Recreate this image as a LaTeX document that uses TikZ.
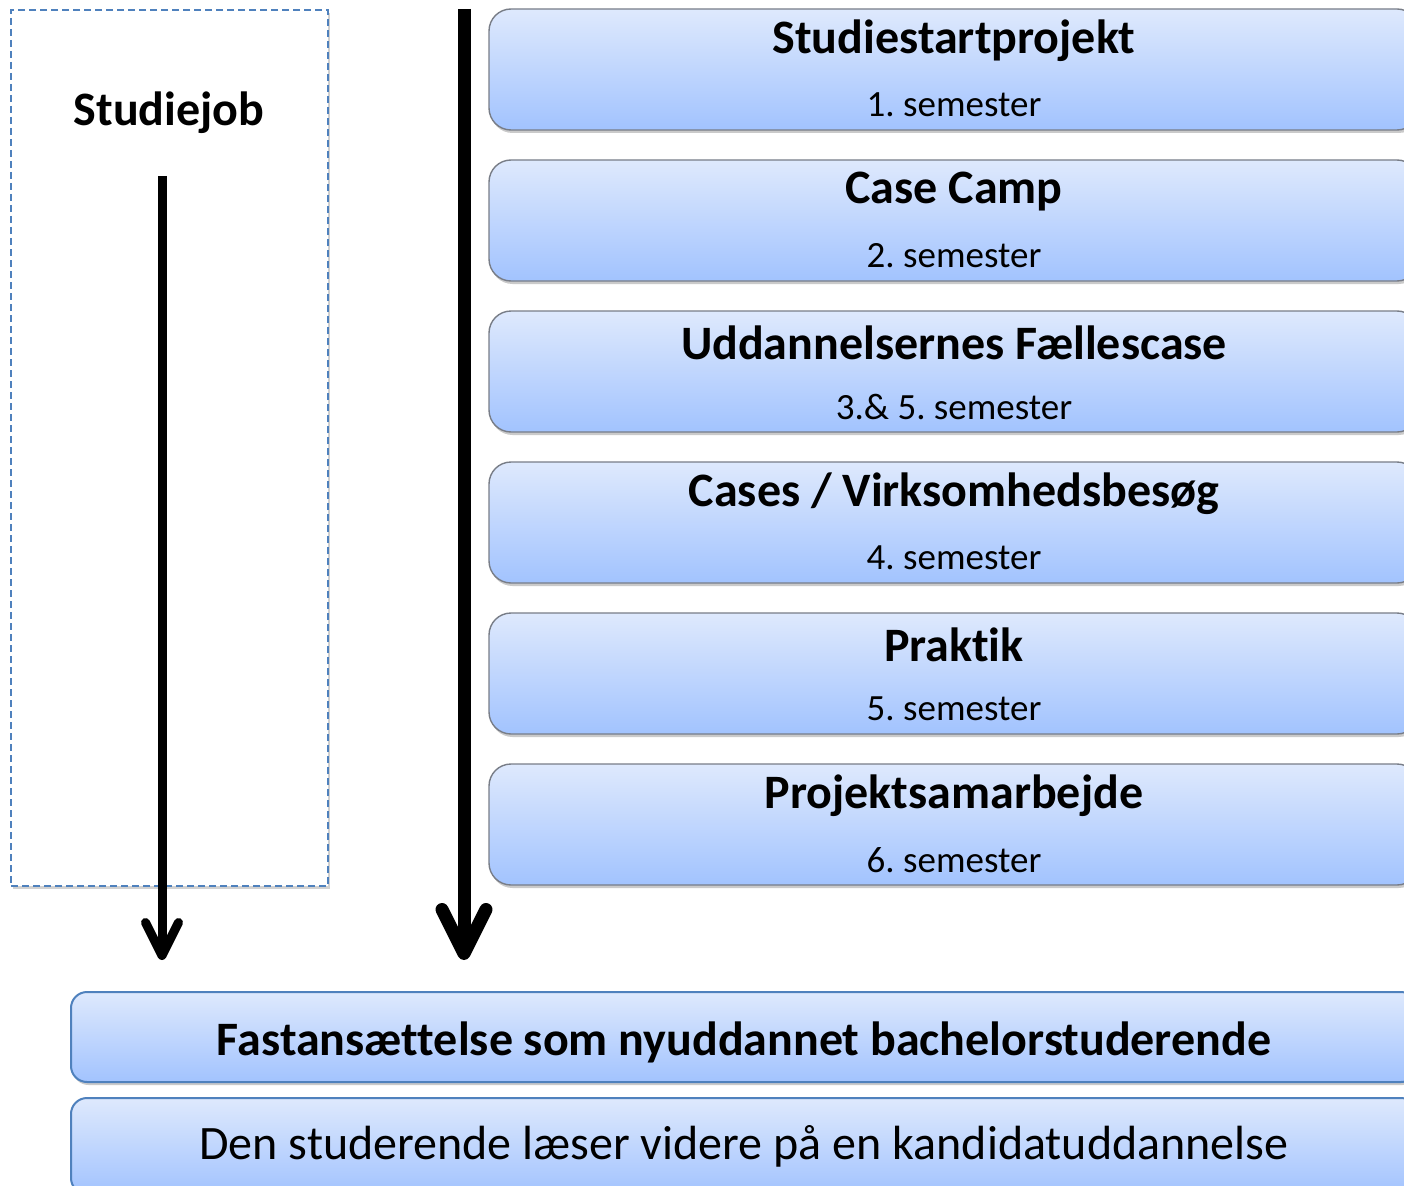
\documentclass[tikz,border=0pt]{standalone}
\usepackage{fontspec}
\setmainfont{Carlito}[Ligatures={NoCommon}]
\usetikzlibrary{arrows.meta,shadows}
\definecolor{boxtop}{RGB}{222,233,253}
\definecolor{boxbot}{RGB}{162,195,254}
\definecolor{edgegray}{RGB}{120,125,135}
\definecolor{edgeblue}{RGB}{79,129,189}
\tikzset{
  semboxstyle/.style={rectangle, rounded corners=22pt, draw=edgegray, line width=1.4pt,
    top color=boxtop, bottom color=boxbot, minimum width=930pt, minimum height=121pt,
    drop shadow={shadow xshift=1.5pt, shadow yshift=-3pt, opacity=0.35, fill=black!60}},
  endboxstyle/.style={rectangle, rounded corners=16pt, draw=edgeblue, line width=2pt,
    top color=boxtop, bottom color=boxbot, minimum width=1346pt, minimum height=90pt,
    drop shadow={shadow xshift=1.5pt, shadow yshift=-3pt, opacity=0.35, fill=black!60}},
  jobboxstyle/.style={rectangle, draw=edgeblue, line width=2pt, dash pattern=on 7pt off 4pt,
    fill=white, minimum width=317pt, minimum height=876pt,
    drop shadow={shadow xshift=1.5pt, shadow yshift=-3pt, opacity=0.3, fill=black!60}},
  ttl/.style={font=\fontsize{48}{56}\selectfont\bfseries, inner sep=0pt},
  subt/.style={font=\fontsize{37}{44}\selectfont, inner sep=0pt},
  bigarrow/.style={line width=13pt, -{Straight Barb[length=44pt, width=44pt, round]}},
  smallarrow/.style={line width=9pt, -{Straight Barb[length=33pt, width=33pt, round]}}
}
\begin{document}
\frenchspacing
\begin{tikzpicture}[x=1pt,y=-1pt]
\useasboundingbox (0,0) rectangle (1404,1185);
\clip (0,0) rectangle (1404,1185);
% Studiejob box
\node[jobboxstyle] (job) at (169.5,448) {};
\node[ttl] (jobt) at (169,113) {Studiejob};
% semester boxes
\foreach \i/\t/\s in {0/Studiestartprojekt/1. semester,
                      1/Case Camp/2. semester,
                      2/Uddannelsernes Fællescase/3.\& 5. semester,
                      3/{Cases / Virksomhedsbesøg}/4. semester,
                      4/Praktik/5. semester,
                      5/Projektsamarbejde/6. semester}{
  \node[semboxstyle] (b\i) at (954, 69.5+151*\i) {};
  \node[ttl] (bt\i) at (954, 41+151*\i) {\t};
  \node[subt] (bs\i) at (954, 105+151*\i) {\s};
}
% bottom boxes
\node[endboxstyle] (e1) at (744,1037) {};
\node[ttl] (e1t) at (744,1042) {Fastansættelse som nyuddannet bachelorstuderende};
\node[endboxstyle, minimum height=96pt] (e2) at (744,1146) {};
\node[subt, font=\fontsize{48}{56}\selectfont] (e2t) at (744,1146) {Den studerende læser videre på en kandidatuddannelse};
% arrows
\coordinate (sjtop) at (162,176);
\coordinate (sjend) at (162,960);
\coordinate (bigtop) at (464,9);
\coordinate (bigend) at (464,960);
\draw[smallarrow] (sjtop) -- (sjend);
\draw[bigarrow] (bigtop) -- (bigend);
\end{tikzpicture}
\end{document}
